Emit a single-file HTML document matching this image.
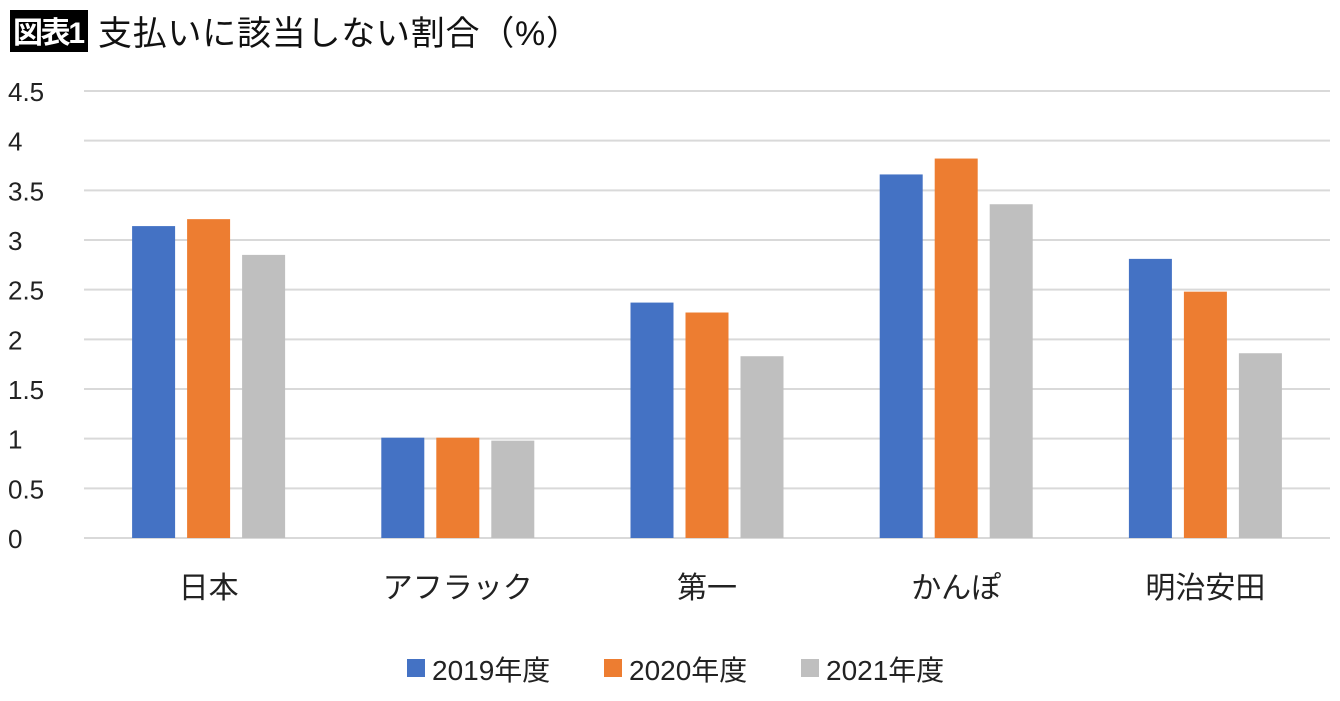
<!DOCTYPE html>
<html><head><meta charset="utf-8"><style>
body{margin:0;background:#fff;width:1340px;height:696px;overflow:hidden;font-family:"Liberation Sans","Noto Sans CJK JP",sans-serif;}
svg text{font-family:"Liberation Sans","Noto Sans CJK JP",sans-serif;}
</style></head><body>
<svg id="chart" width="1340" height="696" xmlns="http://www.w3.org/2000/svg">
<rect x="10" y="10" width="78" height="42" fill="#000"/>
<text x="49" y="43" text-anchor="middle" fill="#fff" font-size="30" font-weight="bold" textLength="72">図表1</text>
<text x="98" y="45" font-size="34" fill="#111" textLength="482">支払いに該当しない割合（%）</text>
<g id="grid"></g><g id="bars"></g><g id="xlabels"></g><g id="legend"></g>
</svg>
<script>
const categories=["日本","アフラック","第一","かんぽ","明治安田"];
const series=["2019年度","2020年度","2021年度"];
const v2019=[3.14,1.01,2.37,3.66,2.81];
const v2020=[3.21,1.01,2.27,3.82,2.48];
const v2021=[2.85,0.98,1.83,3.36,1.86];
const ticks=[0,0.5,1,1.5,2,2.5,3,3.5,4,4.5];
const colors=["#4472c4","#ed7d31","#bfbfbf"];
const NS="http://www.w3.org/2000/svg";
const x0=84,x1=1330,y0=538,yTop=91,ymax=4.5;
const y=v=>y0-(y0-yTop)*v/ymax;
const band=(x1-x0)/categories.length;
const cx=i=>x0+band*(i+0.5);
function mk(t,a,p){const e=document.createElementNS(NS,t);for(const k in a)e.setAttribute(k,a[k]);p.appendChild(e);return e;}
const grid=document.getElementById('grid');
ticks.forEach(t=>{
 const l=mk('line',{x1:x0,x2:x1,y1:y(t),y2:y(t),stroke:'#d9d9d9','stroke-width':2},grid);
 
 
 const tx=mk('text',{x:8,y:y(t)+10,'font-size':26,fill:'#222'},grid);
 tx.textContent=String(t);
 
 
});
const bars=document.getElementById('bars');
const data=[v2019,v2020,v2021];
const bw=43,step=55;
data.forEach((vals,s)=>{
 vals.forEach((v,i)=>{
  const bx=cx(i)+(s-1)*step-bw/2;
  const r=mk('rect',{x:bx,y:y(v),width:bw,height:y0-y(v),fill:colors[s]},bars);
  
  
 });
});
const xl=document.getElementById('xlabels');
categories.forEach((c,i)=>{
 const t=mk('text',{x:cx(i),y:598,'font-size':30,'text-anchor':'middle',fill:'#222'},xl);
 t.textContent=c;
 
 
});
const lg=document.getElementById('legend');
const lx=[407,604,801];
series.forEach((s,i)=>{
 const r=mk('rect',{x:lx[i],y:659,width:18,height:18,fill:colors[i]},lg);
 
 
 const t=mk('text',{x:lx[i]+25,y:680,'font-size':28,fill:'#222'},lg);
 t.textContent=s;
 
 
});
</script>
</body></html>
